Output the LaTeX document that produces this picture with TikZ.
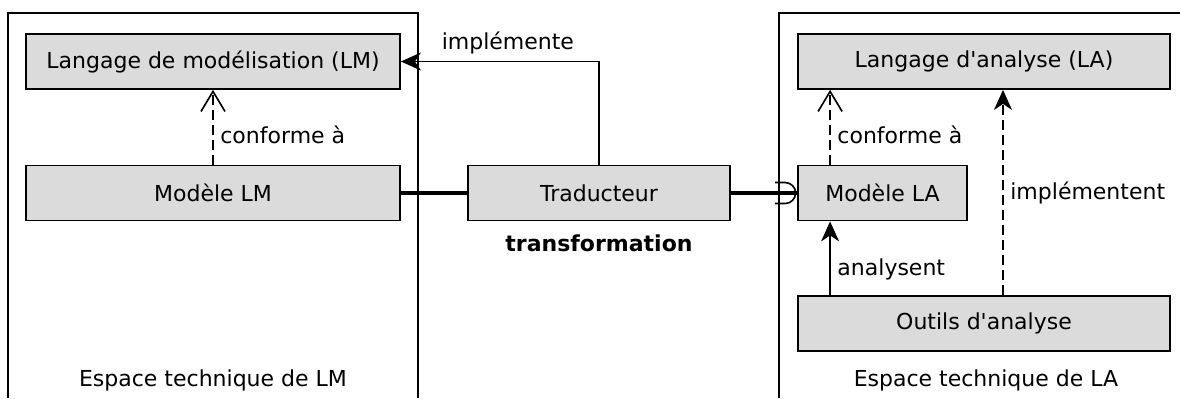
\documentclass[tikz,border=0pt]{standalone}
\usepackage{fontspec}
\setmainfont{DejaVu Sans}
\usetikzlibrary{arrows.meta}

\tikzset{
  boite/.style={draw,line width=0.9pt,fill=black!14,minimum height=27.5pt,inner sep=0pt},
  cadre/.style={line width=0.8pt},
  lien/.style={line width=1.6pt},
  conforme/.style={line width=0.7pt,dash pattern=on 5pt off 2.5pt,-{Straight Barb[length=10pt,width=12pt,line width=0.8pt]}},
  implem/.style={line width=0.7pt,dash pattern=on 5pt off 2.5pt,-{Stealth[length=10pt,width=9pt,inset=3pt]}},
  fleche/.style={line width=0.7pt,-{Stealth[length=10pt,width=9pt,inset=3pt]}}
}

\begin{document}
\begin{tikzpicture}[x=0.5pt,y=-0.5pt,font=\fontsize{11}{13}\selectfont]
\useasboundingbox (0,0) rectangle (1180,398);

%Espaces techniques
\draw[cadre] (8,398) |- (418,13) -- (418,398);
\draw[cadre] (779,398) |- (1185,13);
\node (espLM) at (213,380) {Espace technique de LM};
\node (espLA) at (986,380) {Espace technique de LA};

%Boites
\node[boite,minimum width=187pt] (langLM) at (213,61.5) {Langage de modélisation (LM)};
\node[boite,minimum width=187pt] (modLM) at (213,193) {Modèle LM};
\node[boite,minimum width=131pt] (trad) at (599,193) {Traducteur};
\node[font=\fontsize{11}{13}\selectfont\bfseries] (transfo) at (599,243) {transformation};
\node[boite,minimum width=84.5pt] (modLA) at (882.5,193) {Modèle LA};
\node[boite,minimum width=186pt] (langLA) at (984,61.5) {Langage d\textquotesingle analyse (LA)};
\node[boite,minimum width=186pt] (outils) at (984,323.5) {Outils d\textquotesingle analyse};

%Liens
\draw[conforme] (modLM.north) -- node[right,pos=0.4] {conforme à} (langLM.south);
\draw[fleche] (trad.north) |- node[above,pos=0.73] {implémente} (langLM.east);
\draw[lien] (modLM) -- (trad);
\draw[lien] (trad) -- (modLA);
\draw[line width=0.8pt] ([xshift=-11pt,yshift=5.25pt]modLA.west) -- ++(5pt,0) arc[start angle=90,end angle=-90,radius=5.25pt] -- ++(-5pt,0);
\draw[conforme] ([xshift=16.5pt]modLA.north west) -- node[right,pos=0.4] {conforme à} ([xshift=16.5pt]modLA.north west |- langLA.south);
\draw[fleche] ([xshift=16.5pt]outils.north west) -- node[right,pos=0.35] {analysent} ([xshift=16.5pt]modLA.south west);
\draw[implem] ([xshift=9.5pt]outils.north) -- node[right,pos=0.5] {implémentent} ([xshift=9.5pt]outils.north |- langLA.south);

\end{tikzpicture}
\end{document}
